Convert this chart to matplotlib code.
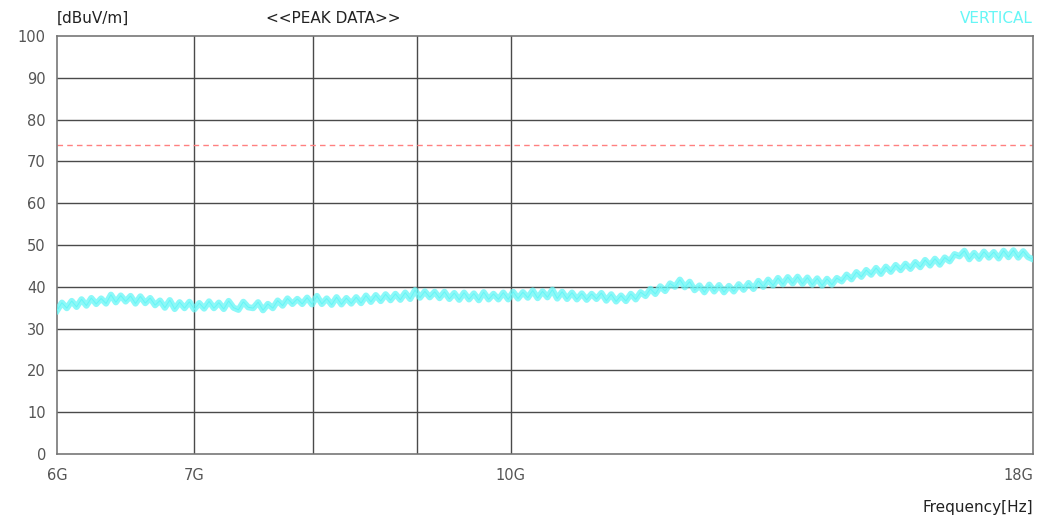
import matplotlib
matplotlib.use('Agg')
import matplotlib.pyplot as plt
import numpy as np

# sweep levels, 200 points evenly spaced on the log axis 6G..18G
level = [34.3, 36.2, 34.9, 36.6, 35.2, 37.0, 35.5, 37.3, 35.9, 37.2,
         36.0, 38.1, 36.3, 37.9, 36.5, 37.8, 36.0, 37.7, 36.1, 37.3,
         35.6, 36.7, 35.0, 36.8, 34.7, 36.3, 34.9, 36.4, 34.6, 36.1,
         34.8, 36.5, 34.9, 36.2, 34.7, 36.6, 35.0, 34.5, 36.4, 35.1,
         34.9, 36.3, 34.4, 35.9, 34.9, 36.7, 35.5, 37.2, 35.9, 37.1,
         35.9, 37.4, 35.8, 37.8, 35.9, 37.2, 35.7, 37.5, 35.8, 37.3,
         36.0, 37.5, 36.1, 37.9, 36.4, 38.0, 36.6, 38.2, 36.8, 38.3,
         36.9, 38.6, 37.1, 39.2, 37.4, 38.9, 37.5, 38.8, 37.3, 38.8,
         37.1, 38.5, 36.9, 38.6, 37.0, 38.4, 36.8, 38.7, 37.0, 38.3,
         37.0, 38.6, 37.0, 38.8, 37.2, 38.7, 37.4, 39.1, 37.3, 38.9,
         37.5, 39.3, 37.2, 38.8, 37.1, 38.6, 37.0, 38.4, 36.9, 38.3,
         37.1, 38.5, 36.7, 38.2, 36.5, 37.9, 36.6, 38.3, 37.0, 38.7,
         37.8, 39.5, 38.3, 40.1, 39.0, 40.8, 40.0, 41.7, 39.9, 41.2,
         39.2, 40.3, 38.7, 40.5, 38.9, 40.4, 38.7, 40.2, 38.9, 40.6,
         39.3, 40.9, 39.5, 41.4, 40.0, 41.7, 40.3, 42.1, 40.6, 42.3,
         40.8, 42.4, 40.7, 42.2, 40.5, 42.0, 40.3, 41.9, 40.5, 42.1,
         41.3, 42.9, 41.8, 43.5, 42.4, 44.0, 42.9, 44.5, 43.1, 44.8,
         43.6, 45.2, 44.0, 45.5, 44.3, 45.9, 44.7, 46.4, 45.1, 46.7,
         45.3, 47.0, 46.1, 47.8, 47.3, 48.6, 46.6, 48.1, 46.7, 48.4,
         47.0, 48.3, 46.8, 48.6, 47.1, 48.7, 47.0, 48.5, 47.1, 46.6]
freq = np.geomspace(6e9, 18e9, len(level))

limit = 74
grid_freqs = [7e9, 8e9, 9e9, 10e9]
tick_freqs = [6e9, 7e9, 10e9, 18e9]
tick_labels = ['6G', '7G', '10G', '18G']

cyan = '#66f6f6'
gridc = '#4a4a4a'
textc = '#555555'

fig = plt.figure(figsize=(10.38, 5.21), dpi=100)
ax = fig.add_axes([0.0549, 0.1286, 0.9403, 0.8023])

ax.set_xscale('log')
ax.set_xlim(6e9, 18e9)
ax.set_ylim(0, 100)

for y in range(10, 100, 10):
    ax.axhline(y, color=gridc, lw=1, zorder=1)
for f in grid_freqs:
    ax.axvline(f, color=gridc, lw=1, zorder=1)

ax.axhline(limit, color='#ff8080', lw=1, ls=(0, (4, 3)), zorder=2)

# wide soft band plus the thin jagged trace on top
ax.plot(freq, level, color=cyan, lw=4.5, alpha=0.75, zorder=3)
ax.plot(freq, level, color=cyan, lw=0.7, zorder=4)

for s in ax.spines.values():
    s.set_color('#777777')
    s.set_linewidth(1.2)

ax.set_yticks(range(0, 101, 10))
ax.set_yticklabels([str(v) for v in range(0, 101, 10)], color=textc, fontsize=10.5)
ax.xaxis.set_minor_locator(matplotlib.ticker.NullLocator())
ax.set_xticks(tick_freqs)
ax.set_xticklabels(tick_labels, color=textc, fontsize=10.5)
ax.get_xticklabels()[-1].set_horizontalalignment('right')
ax.tick_params(axis='both', length=0, pad=8)
ax.tick_params(axis='x', pad=10)

fig.text(0.0549, 0.965, '[dBuV/m]', fontsize=11, color='#222222', ha='left', va='center')
fig.text(0.321, 0.965, '<<PEAK DATA>>', fontsize=11, color='#222222', ha='center', va='center')
fig.text(0.995, 0.965, 'VERTICAL', fontsize=11, color=cyan, ha='right', va='center')
fig.text(0.995, 0.025, 'Frequency[Hz]', fontsize=11, color='#222222', ha='right', va='center')

fig.savefig('out.png', dpi=100)
